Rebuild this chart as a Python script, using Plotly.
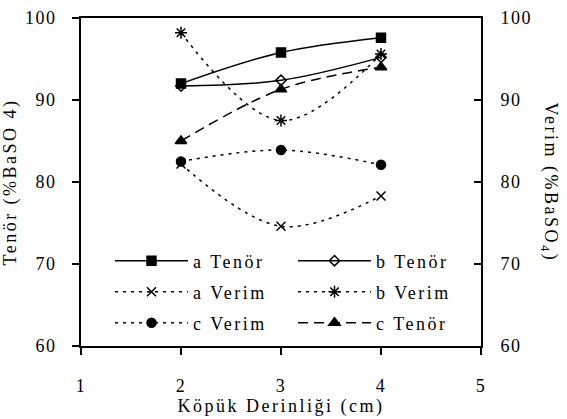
import plotly.graph_objects as go

# Foam depth (cm)
depth = [2, 3, 4]

# Grade (Tenör) and recovery (Verim) values, % BaSO4
a_tenor = [92.0, 95.8, 97.6]
b_tenor = [91.7, 92.4, 95.2]
a_verim = [82.2, 74.6, 78.3]
b_verim = [98.2, 87.5, 95.6]
c_verim = [82.5, 83.9, 82.1]
c_tenor = [85.0, 91.3, 94.0]

x_ticks = [1, 2, 3, 4, 5]
y_ticks = [60, 70, 80, 90, 100]

FONT = "Liberation Serif, Times New Roman, Times, serif"
W, H = 567, 419
ML, MR, MT, MB = 81, 86, 18, 73
PW, PH = W - ML - MR, H - MT - MB


def px_x(px):
    return (px - ML) / PW


def px_y(py):
    return (H - MB - py) / PH


series = [
    # name, values, dash, symbol, size, axis, legend id, legend col px, legend row px
    ("a Tenör", a_tenor, "solid", "square", 9, "y", "legend", 115, 261),
    ("b Tenör", b_tenor, "solid", "diamond-open", 8, "y", "legend2", 298, 261),
    ("a Verim", a_verim, "3px,5px", "x-thin-open", 9, "y2", "legend3", 115, 292),
    ("b Verim", b_verim, "3px,5px", "asterisk-open", 10, "y2", "legend4", 298, 292),
    ("c Verim", c_verim, "3px,5px", "circle", 9, "y2", "legend5", 115, 323),
    ("c Tenör", c_tenor, "10px,6px", "triangle-up", 10, "y", "legend6", 298, 323),
]

fig = go.Figure()
legends = {}
for name, vals, dash, sym, size, yax, leg, lx, ly in series:
    fig.add_trace(go.Scatter(
        x=depth, y=vals, name=name, mode="lines+markers", yaxis=yax,
        line=dict(color="black", width=1.5, dash=dash, shape="spline", smoothing=1),
        marker=dict(symbol=sym, size=size, color="black",
                    line=dict(color="black", width=1.5)),
        legend=leg,
    ))
    legends[leg] = dict(
        x=px_x(lx - 5), y=px_y(ly), xanchor="left", yanchor="middle",
        orientation="h", itemwidth=73, entrywidth=100, entrywidthmode="pixels",
        bgcolor="rgba(0,0,0,0)",
        font=dict(family=FONT, size=18, color="black"),
    )

axis_font = dict(family=FONT, size=18, color="black")

fig.update_layout(
    template="none",
    width=W, height=H,
    margin=dict(l=ML, r=MR, t=MT, b=MB, pad=0, autoexpand=False),
    paper_bgcolor="white", plot_bgcolor="white",
    showlegend=True,
    font=dict(family=FONT, size=18, color="black"),
    xaxis=dict(
        range=[1, 5], tickvals=x_ticks, ticks="outside", ticklen=7, tickwidth=1.5,
        tickcolor="black", showline=True, linecolor="black", linewidth=2,
        mirror=True, showgrid=False, zeroline=False, tickfont=axis_font,
        ticklabelstandoff=15, automargin=False,
        title=dict(text="Köpük Derinliği (cm)", font=axis_font, standoff=3),
    ),
    yaxis=dict(
        range=[60, 100], tickvals=y_ticks, ticks="outside", ticklen=7, tickwidth=1.5,
        tickcolor="black", showline=True, linecolor="black", linewidth=2,
        showgrid=False, zeroline=False, tickfont=axis_font, ticklabelstandoff=12,
        automargin=False,
        title=dict(text="Tenör (%BaSO 4)", font=axis_font, standoff=10),
    ),
    yaxis2=dict(
        range=[60, 100], tickvals=y_ticks, ticks="inside", ticklen=7, tickwidth=1.5,
        tickcolor="black", showline=True, linecolor="black", linewidth=2,
        overlaying="y", side="right", showgrid=False, zeroline=False,
        tickfont=axis_font, ticklabelstandoff=14, automargin=False,
    ),
    annotations=[dict(
        text="Verim (%BaSO<sub>4</sub>)", xref="paper", yref="paper",
        x=px_x(550), y=0.5, textangle=90, showarrow=False,
        font=axis_font, xanchor="center", yanchor="middle",
    )],
    **legends,
)

# Loosen the letter spacing of the serif labels
spacing_js = """
document.querySelectorAll('.main-svg text').forEach(function (t) {
  var p = t.parentNode;
  var isTick = p && p.classList && (p.classList.contains('xtick') ||
               p.classList.contains('ytick') || p.classList.contains('y2tick'));
  t.style.letterSpacing = isTick ? '1.5px' : '2.5px';
});
"""

fig.write_html("out.html", post_script=spacing_js)
